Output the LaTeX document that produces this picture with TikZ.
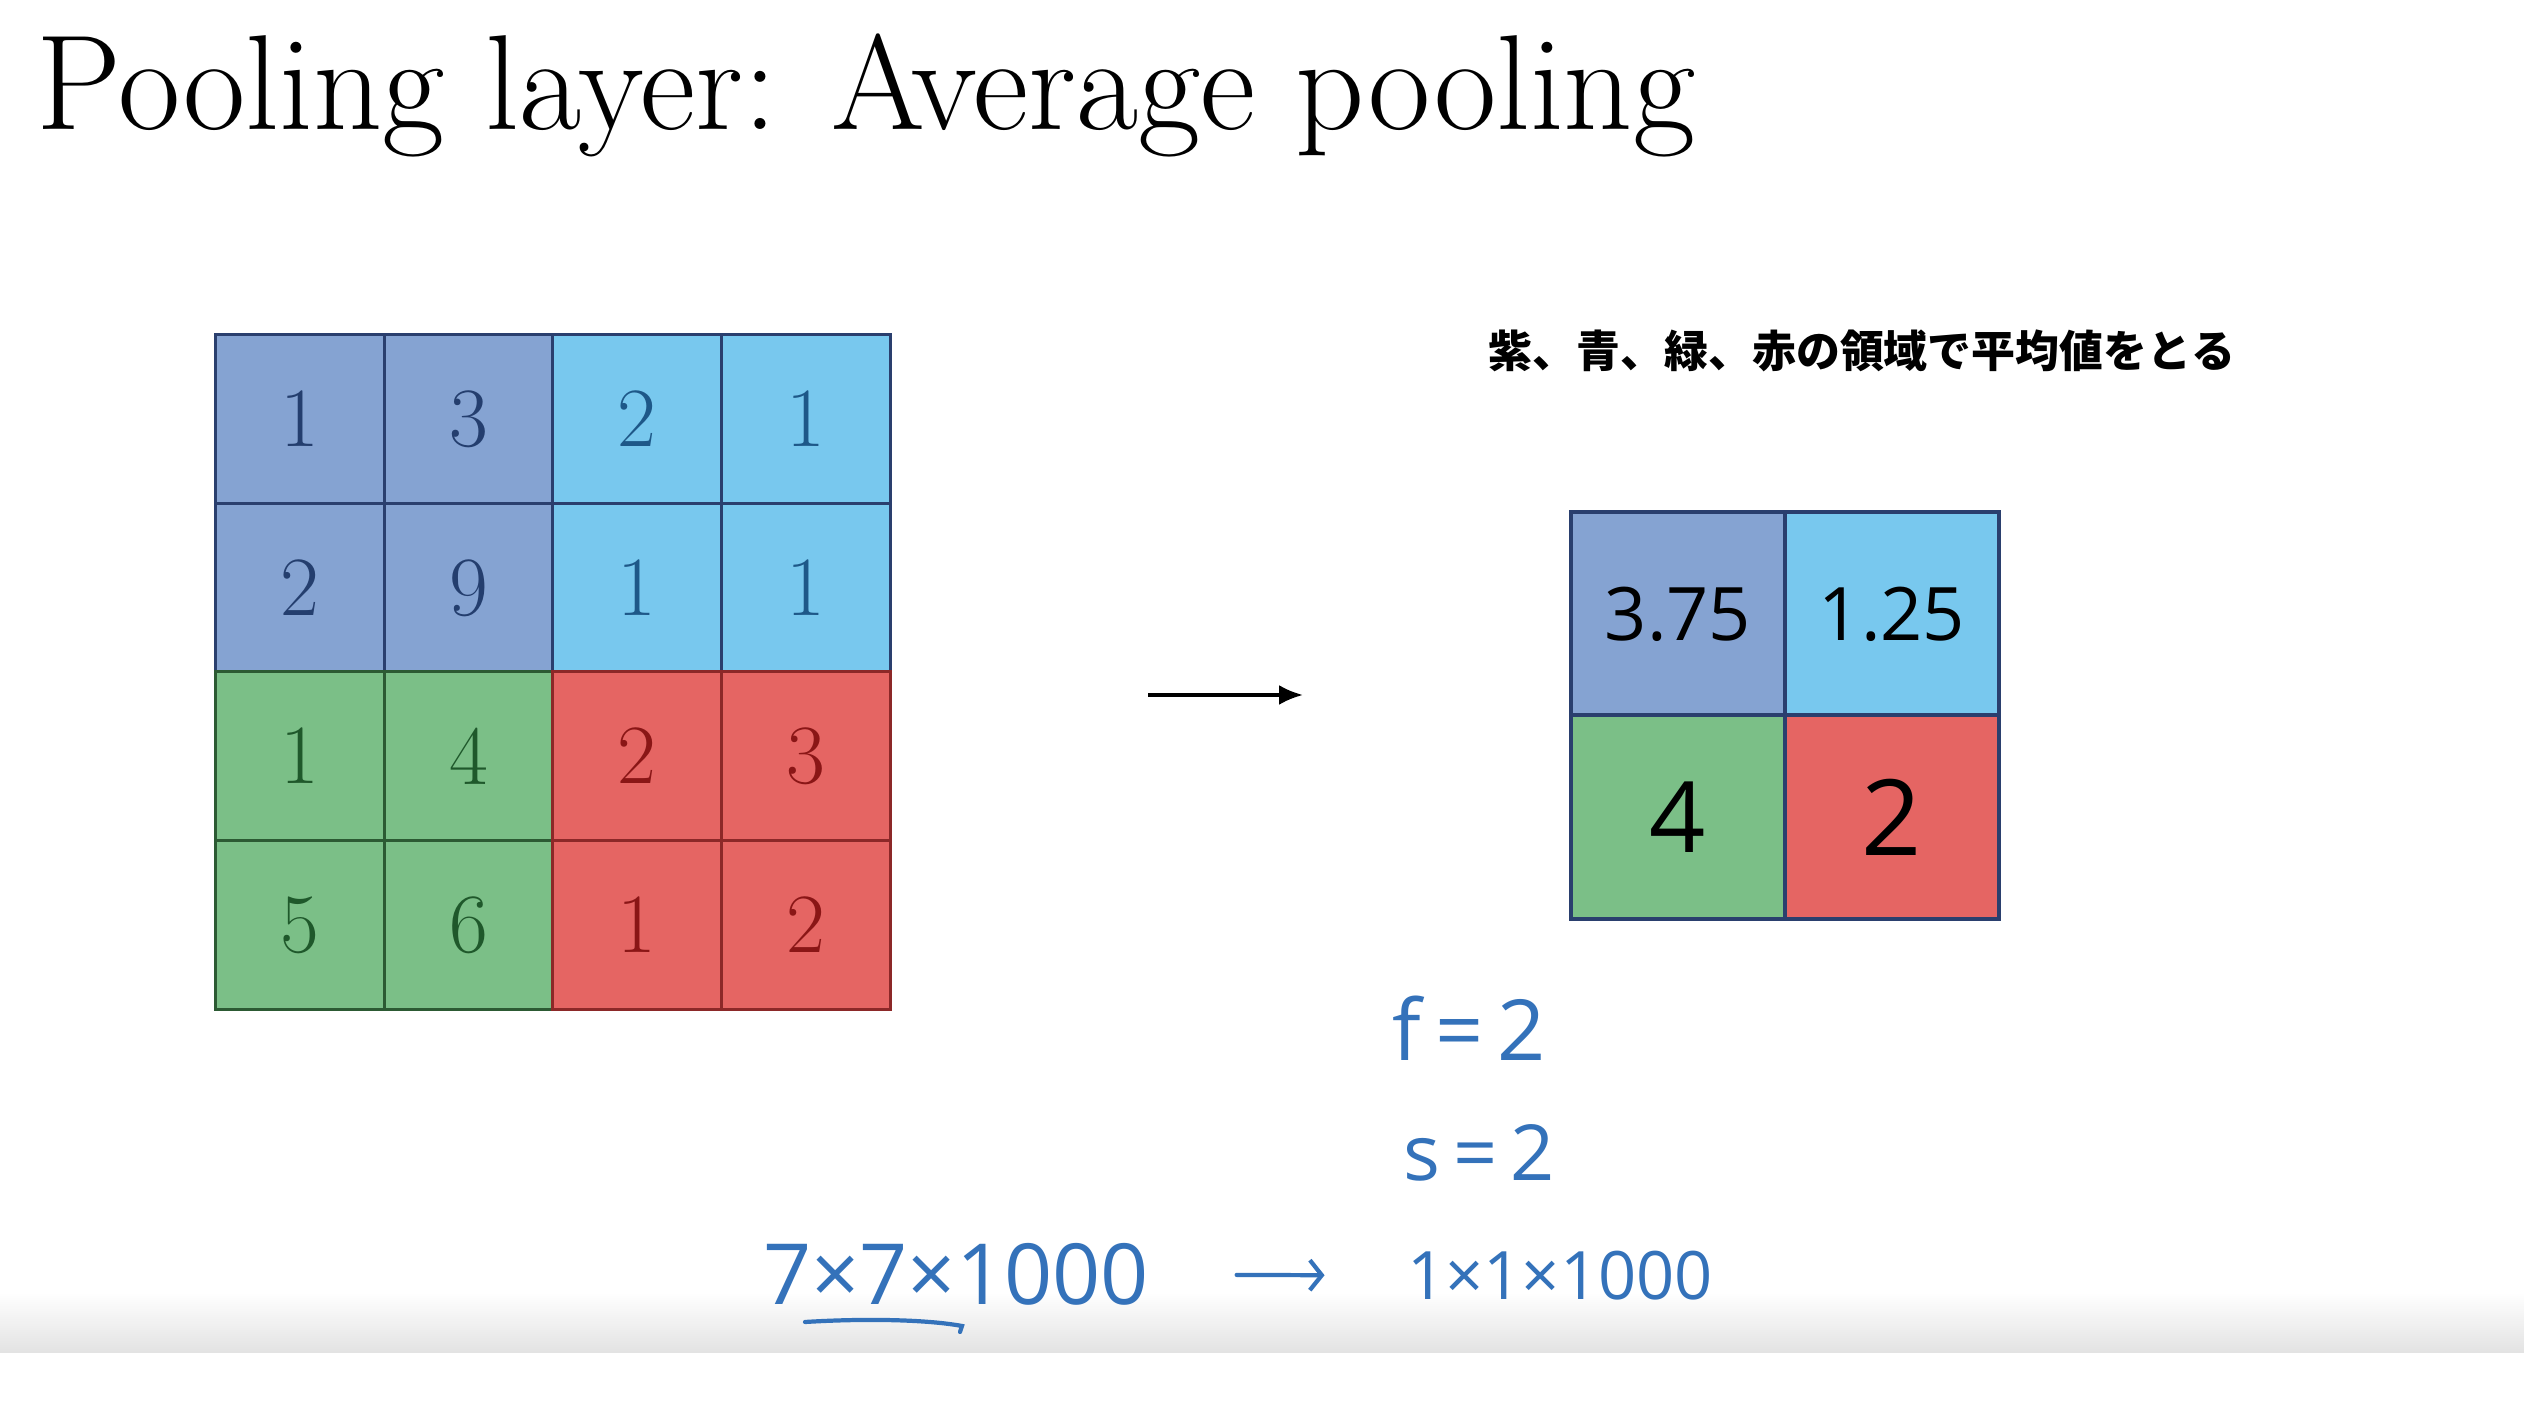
\documentclass[tikz,border=0pt]{standalone}
\usepackage{fontspec}
\usepackage{tikz}
\usetikzlibrary{arrows}
\usetikzlibrary{arrows.meta}
\newfontfamily\cjk{Noto Sans CJK JP}
\newfontfamily\handfont{Open Sans}
\definecolor{mpurple}{RGB}{133,163,210}
\definecolor{mblue}{RGB}{120,200,238}
\definecolor{mgreen}{RGB}{123,191,135}
\definecolor{mred}{RGB}{229,101,99}
\definecolor{mpurpletext}{RGB}{36,62,110}
\definecolor{mbluetext}{RGB}{30,88,136}
\definecolor{mgreentext}{RGB}{31,88,43}
\definecolor{mredtext}{RGB}{138,22,22}
\definecolor{mnavy}{RGB}{42,63,110}
\definecolor{mgreenline}{RGB}{44,90,51}
\definecolor{mredline}{RGB}{140,40,40}
\definecolor{mhand}{RGB}{52,114,186}

\begin{document}
\begin{tikzpicture}[
    cell/.style={draw, line width=0.8pt, minimum width=1.685cm, minimum height=1.685cm,
      inner sep=0pt, font=\fontsize{24}{24}\selectfont},
    pcell/.style={cell, fill=mpurple, draw=mnavy, text=mpurpletext},
    bcell/.style={cell, fill=mblue, draw=mnavy, text=mbluetext},
    gcell/.style={cell, fill=mgreen, draw=mgreenline, text=mgreentext},
    rcell/.style={cell, fill=mred, draw=mredline, text=mredtext},
    outcell/.style={draw=mnavy, line width=1pt, minimum width=2.14cm, minimum height=2.035cm,
      inner sep=0pt, font=\handfont\fontsize{21}{21}\selectfont},
    handtext/.style={text=mhand, inner sep=2pt},
    handline/.style={draw=mhand, line width=1.2pt, line cap=round},
  ]
    \useasboundingbox (0, 0) rectangle (25.24, 14.12);
    \fill [white] (0, 0) rectangle (25.24, 14.12);
    \shade [top color=white, bottom color=black!11] (0, 0.60) rectangle (25.24, 1.20);

    \node [anchor=base west, inner sep=0pt, font=\fontsize{38.5}{38.5}\selectfont] (title) at (0.36, 12.82)
      {Pooling layer: Average pooling};

    % 4x4 input
    \node [pcell] (c11) at (3.00, 9.93) {1};
    \node [pcell] (c12) at (4.69, 9.93) {3};
    \node [bcell] (c13) at (6.37, 9.93) {2};
    \node [bcell] (c14) at (8.06, 9.93) {1};
    \node [pcell] (c21) at (3.00, 8.24) {2};
    \node [pcell] (c22) at (4.69, 8.24) {9};
    \node [bcell] (c23) at (6.37, 8.24) {1};
    \node [bcell] (c24) at (8.06, 8.24) {1};
    \node [gcell] (c31) at (3.00, 6.56) {1};
    \node [gcell] (c32) at (4.69, 6.56) {4};
    \node [rcell] (c33) at (6.37, 6.56) {2};
    \node [rcell] (c34) at (8.06, 6.56) {3};
    \node [gcell] (c41) at (3.00, 4.87) {5};
    \node [gcell] (c42) at (4.69, 4.87) {6};
    \node [rcell] (c43) at (6.37, 4.87) {1};
    \node [rcell] (c44) at (8.06, 4.87) {2};

    \coordinate (arrstart) at (11.48, 7.17);
    \coordinate (arrend) at (13.03, 7.17);
    \draw [-{Latex[length=0.24cm, width=0.2cm]}, line width=1pt] (arrstart) -- (arrend);

    \node [font=\cjk\bfseries\fontsize{12.5}{14}\selectfont] (note) at (18.62, 10.61)
      {紫、青、緑、赤の領域で平均値をとる};

    % 2x2 output
    \node [outcell, fill=mpurple] (o11) at (16.78, 7.98) {3.75};
    \node [outcell, fill=mblue] (o12) at (18.92, 7.98) {1.25};
    \node [outcell, fill=mgreen, font=\handfont\fontsize{28}{28}\selectfont] (o21) at (16.78, 5.95) {4};
    \node [outcell, fill=mred, font=\handfont\fontsize{30}{30}\selectfont] (o22) at (18.92, 5.95) {2};

    % handwritten notes
    \node [handtext, font=\handfont\fontsize{24}{24}\selectfont] (fval) at (14.69, 3.84) {f\,=\,2};
    \node [handtext, font=\handfont\fontsize{22}{22}\selectfont] (sval) at (14.79, 2.59) {s\,=\,2};
    \node [handtext, font=\handfont\fontsize{24}{24}\selectfont] (vol7) at (9.56, 1.38) {7×7×1000};
    \node [handtext, font=\handfont\fontsize{19}{19}\selectfont] (vol1) at (15.60, 1.36) {1×1×1000};
    \draw [handline, -{Straight Barb[length=0.12cm, width=0.3cm]}, shorten <=0.8cm, shorten >=0.75cm] (vol7) -- (vol1);
    \draw [handline] (8.05, 0.90) .. controls (8.7, 0.94) and (9.3, 0.92) .. (9.62, 0.86) -- (9.60, 0.80);
  \end{tikzpicture}
\end{document}
